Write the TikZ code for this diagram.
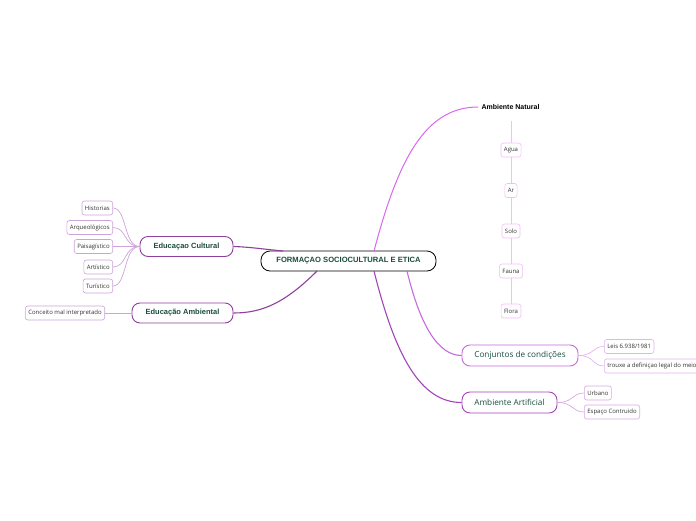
\documentclass[tikz,border=0pt]{standalone}
\usepackage{fontspec}
\setmainfont{Liberation Sans}
\newfontfamily\leaffont{Open Sans}
\usetikzlibrary{calc}

\definecolor{titlegreen}{HTML}{1B4D3E}
\definecolor{culturalpurple}{HTML}{8E3F9C}
\definecolor{culturalleaf}{HTML}{CDA3DA}
\definecolor{naturalline}{HTML}{D966F0}
\definecolor{naturalleaf}{HTML}{F2BDF8}
\definecolor{condline}{HTML}{C46ADB}
\definecolor{condleaf}{HTML}{E2B3F0}
\definecolor{artline}{HTML}{A443B8}
\definecolor{artleaf}{HTML}{DAA6E8}

\begin{document}
\begin{tikzpicture}[x=1pt,y=-1pt,
    topic/.style={draw=#1, fill=white, rounded corners=8pt, line width=0.9pt,
        inner sep=0pt, minimum height=20pt, text=titlegreen,
        font=\bfseries\fontsize{7.5}{9}\selectfont},
    softtopic/.style={topic=#1, font=\leaffont\fontsize{8.2}{10}\selectfont},
    leaf/.style={draw=#1, fill=white, rounded corners=2.5pt, line width=0.6pt,
        inner xsep=3pt, inner ysep=0pt, minimum height=14pt, text=black!80,
        font=\leaffont\fontsize{6}{7}\selectfont},
    link/.style={draw=#1, line width=1.1pt},
    twig/.style={draw=#1, line width=0.7pt}]

    % 0. Canvas
    \useasboundingbox (0,0) rectangle (696,520);

    % 1. Central topic
    \node[draw=black, fill=white, rounded corners=9pt, line width=0.8pt, minimum width=175pt,
        minimum height=20pt, inner sep=0pt, text=titlegreen,
        font=\bfseries\fontsize{7.6}{9}\selectfont] (main) at (348.5,261) {FORMAÇAO SOCIOCULTURAL E ETICA};
    \coordinate (mainCult) at (283,251);
    \coordinate (mainAmb) at (317,271);
    \coordinate (mainNat) at (374,251);
    \coordinate (mainArt) at (374,271);
    \coordinate (mainCond) at (407,271);

    % 2. Left branches
    \node[topic=culturalpurple, minimum width=93pt] (cultural) at (186.5,246.5) {Educaçao Cultural};
    \node[topic=culturalpurple, minimum width=101pt] (ambiental) at (182.5,313) {Educação Ambiental};
    \draw[link=culturalpurple] (mainCult) .. controls (262,249) and (250,247) .. (cultural.east);
    \draw[link=culturalpurple] (mainAmb) .. controls (285,303) and (262,313) .. (ambiental.east);

    % 3. Leaves of Educaçao Cultural
    \foreach \name/\txt/\y in {hist/Historias/208, arq/Arqueológicos/227.5, pais/Paisagístico/246.5,
                               art/Artístico/267, tur/Turístico/286}{
        \node[leaf=culturalleaf, anchor=east] (\name) at (113,\y) {\txt};
        \draw[twig=culturalleaf] (\name.east) .. controls +(14,0) and +(-16,0) .. (cultural.west);
    }

    % 4. Leaf of Educação Ambiental
    \node[leaf=culturalleaf, anchor=east] (conceito) at (105,313) {Conceito mal interpretado};
    \draw[twig=culturalleaf] (conceito) -- (ambiental);

    % 5. Ambiente Natural and its column
    \node[font=\bfseries\fontsize{7}{8}\selectfont, text=black] (natural) at (510.5,107) {Ambiente Natural};
    \draw[line width=1pt, naturalline] (mainNat) .. controls (398,160) and (425,107) .. (natural.west);
    \node[leaf=naturalleaf] (agua) at (511,150) {Agua};
    \node[leaf=naturalleaf] (ar) at (511,190.5) {Ar};
    \node[leaf=naturalleaf] (solo) at (511,231) {Solo};
    \node[leaf=naturalleaf] (fauna) at (511,271) {Fauna};
    \node[leaf=naturalleaf] (flora) at (511,311) {Flora};
    \draw[naturalleaf, line width=1pt] ([yshift=-8pt]natural.south -| agua.north) -- (agua.north);
    \foreach \a/\b in {agua/ar, ar/solo, solo/fauna, fauna/flora}
        \draw[naturalleaf, line width=1pt] (\a.south) -- (\b.north);

    % 6. Conjuntos de condições
    \node[softtopic=condline, minimum width=116pt, minimum height=21pt] (cond) at (520,355.5) {Conjuntos de condições};
    \draw[link=condline] (mainCond) .. controls (420,325) and (438,355.5) .. (cond.west);
    \node[leaf=condleaf, anchor=west] (leis) at (604,346.5) {Leis 6.938/1981};
    \node[leaf=condleaf, anchor=west] (trouxe) at (604,366) {trouxe a definiçao legal do meio};
    \draw[twig=condleaf] (cond.east) .. controls +(16,0) and +(-12,0) .. (leis.west);
    \draw[twig=condleaf] (cond.east) .. controls +(16,0) and +(-12,0) .. (trouxe.west);

    % 7. Ambiente Artificial
    \node[softtopic=artline, minimum width=95pt, minimum height=21pt] (artificial) at (509.5,402.5) {Ambiente Artificial};
    \draw[link=artline] (mainArt) .. controls (395,355) and (420,402.5) .. (artificial.west);
    \node[leaf=artleaf, anchor=west] (urbano) at (584,393) {Urbano};
    \node[leaf=artleaf, anchor=west] (espaco) at (584,412) {Espaço Contruido};
    \draw[twig=artleaf] (artificial.east) .. controls +(16,0) and +(-12,0) .. (urbano.west);
    \draw[twig=artleaf] (artificial.east) .. controls +(16,0) and +(-12,0) .. (espaco.west);

\end{tikzpicture}
\end{document}
